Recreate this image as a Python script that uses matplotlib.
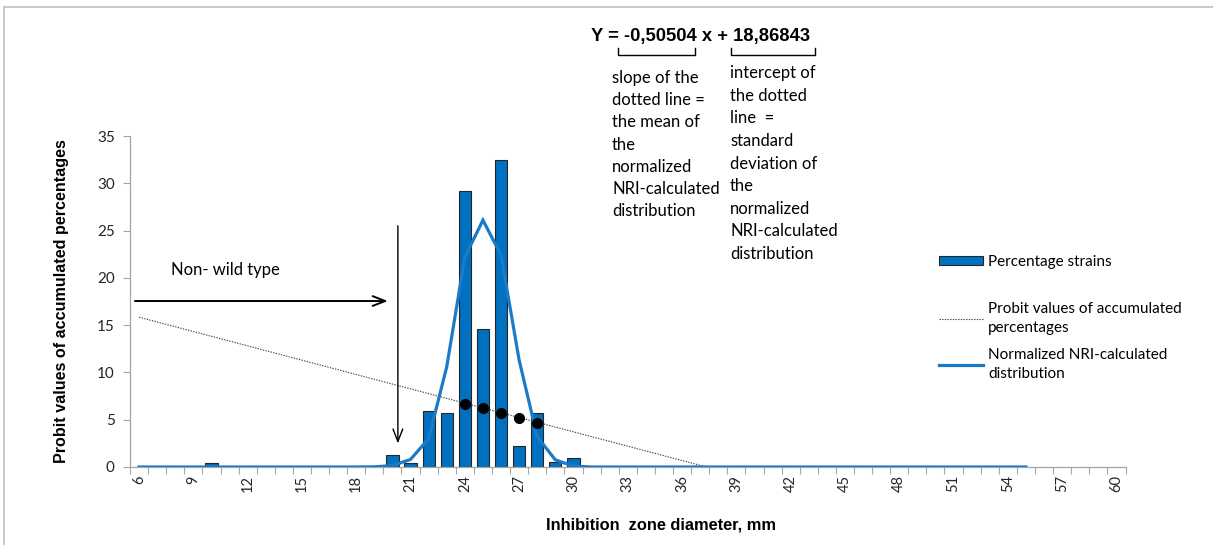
import numpy as np
import matplotlib
matplotlib.use("Agg")
import matplotlib.pyplot as plt
from matplotlib.lines import Line2D
from matplotlib.patches import Rectangle

# Data
diameters = list(range(6, 61))  # category axis, mm
bar_x = [10, 20, 21, 22, 23, 24, 25, 26, 27, 28, 29, 30]
bar_pct = [0.4, 1.3, 0.4, 5.9, 5.75, 29.2, 14.6, 32.45, 2.2, 5.75, 0.5, 0.95]

nri_x = list(range(6, 56))
nri_y = [0] * 13 + [0.02, 0.15, 0.8, 3.0, 10.6, 22.2, 26.1, 22.4, 11.3, 3.2, 0.75, 0.1] + [0] * 25

probit_x = [6, 37.36]
probit_y = [15.84, 0.0]

dot_x = [24, 25, 26, 27, 28]
dot_y = [6.7, 6.2, 5.75, 5.2, 4.7]

xtick_vals = list(range(6, 61, 3))

W, H = 1213, 545
def fx(px):
    return px / W
def fy(py):
    return 1 - py / H

calib = ["Lato", "DejaVu Sans"]
arialb = ["Liberation Sans", "DejaVu Sans"]

fig = plt.figure(figsize=(W / 100, H / 100), dpi=100)
fig.patch.set_facecolor("white")
ax = fig.add_axes([fx(130), fy(467), fx(1125.5) - fx(130), fy(136) - fy(467)])

bars = ax.bar(bar_x, bar_pct, width=0.67, color="#0070C0", edgecolor="#262626",
              linewidth=0.8, zorder=2, label="Percentage strains")
pl, = ax.plot(probit_x, probit_y, color="#404040", ls=(0, (1.2, 1.2)), lw=0.8, zorder=3,
              label="Probit values of accumulated\npercentages")
nl, = ax.plot(nri_x, nri_y, color="#1C7BC9", lw=2.3, zorder=4, solid_joinstyle="miter",
              label="Normalized NRI-calculated\ndistribution")
ax.plot(dot_x, dot_y, "o", color="black", markersize=7, zorder=5)

ax.set_xlim(5.5, 60.5)
ax.set_ylim(0, 35)
ax.set_yticks(range(0, 36, 5))
ax.set_xticks(xtick_vals)
ax.set_xticks(np.arange(5.5, 61, 1), minor=True)
ax.tick_params(axis="x", which="major", length=0, pad=6, rotation=90, labelsize=10.5)
ax.tick_params(axis="x", which="minor", length=5, color="#A6A6A6", width=0.8)
ax.tick_params(axis="y", length=5, color="#A6A6A6", width=0.8, pad=6, labelsize=11)
for lab in ax.get_xticklabels() + ax.get_yticklabels():
    lab.set_family(calib)
    lab.set_color("#262626")
for s in ["top", "right"]:
    ax.spines[s].set_visible(False)
for s in ["left", "bottom"]:
    ax.spines[s].set_color("#A6A6A6")
    ax.spines[s].set_linewidth(0.9)

fig.text(fx(62), fy(301), "Probit values of accumulated percentages", rotation=90,
         ha="center", va="center", fontsize=11.6, fontweight="bold", family=arialb)
fig.text(fx(661), fy(525), "Inhibition  zone diameter, mm", ha="center", va="center",
         fontsize=11.8, fontweight="bold", family=arialb)

# annotations
ax.text(7.75, 20.8, "Non- wild type", ha="left", va="center", fontsize=12, family=calib)
ax.annotate("", xy=(19.9, 17.55), xytext=(5.62, 17.55),
            arrowprops=dict(arrowstyle="->,head_length=0.9,head_width=0.35", lw=1.4, color="black"))
ax.annotate("", xy=(20.3, 2.2), xytext=(20.3, 25.8),
            arrowprops=dict(arrowstyle="->,head_length=0.9,head_width=0.35", lw=1.0, color="black"))

fig.text(fx(591), fy(36), "Y = -0,50504 x + 18,86843", ha="left", va="center",
         fontsize=13.2, fontweight="bold", family=arialb)
for x1, x2 in [(618, 695), (731, 815)]:
    fig.add_artist(Line2D([fx(x1), fx(x1), fx(x2), fx(x2)], [fy(48), fy(55), fy(55), fy(48)],
                          transform=fig.transFigure, color="black", lw=1.0))

fig.text(fx(612), fy(70), "slope of the\ndotted line =\nthe mean of\nthe\nnormalized\nNRI-calculated\ndistribution",
         ha="left", va="top", fontsize=12, family=calib, linespacing=1.48)
fig.text(fx(730), fy(65), "intercept of\nthe dotted\nline  =\nstandard\ndeviation of\nthe\nnormalized\nNRI-calculated\ndistribution",
         ha="left", va="top", fontsize=12, family=calib, linespacing=1.51)

leg1 = ax.legend(handles=[bars], loc="upper left", bbox_to_anchor=(fx(939), fy(255)),
                 bbox_transform=fig.transFigure, frameon=False, borderpad=0, borderaxespad=0,
                 handlelength=2.9, handleheight=0.5, handletextpad=0.3, prop={"family": calib, "size": 11})
ax.add_artist(leg1)
leg2 = ax.legend(handles=[pl, nl], loc="upper left", bbox_to_anchor=(fx(939), fy(302)),
                 bbox_transform=fig.transFigure, frameon=False, borderpad=0, borderaxespad=0,
                 handlelength=2.9, handletextpad=0.3, labelspacing=0.85, prop={"family": calib, "size": 11})
for t in leg2.get_texts():
    t.set_linespacing(1.45)

fig.add_artist(Rectangle((fx(4), -0.01), 1.0, fy(7) + 0.01, transform=fig.transFigure,
                         fill=False, edgecolor="#BFBFBF", lw=1.2))

plt.savefig("out.png", dpi=100)
